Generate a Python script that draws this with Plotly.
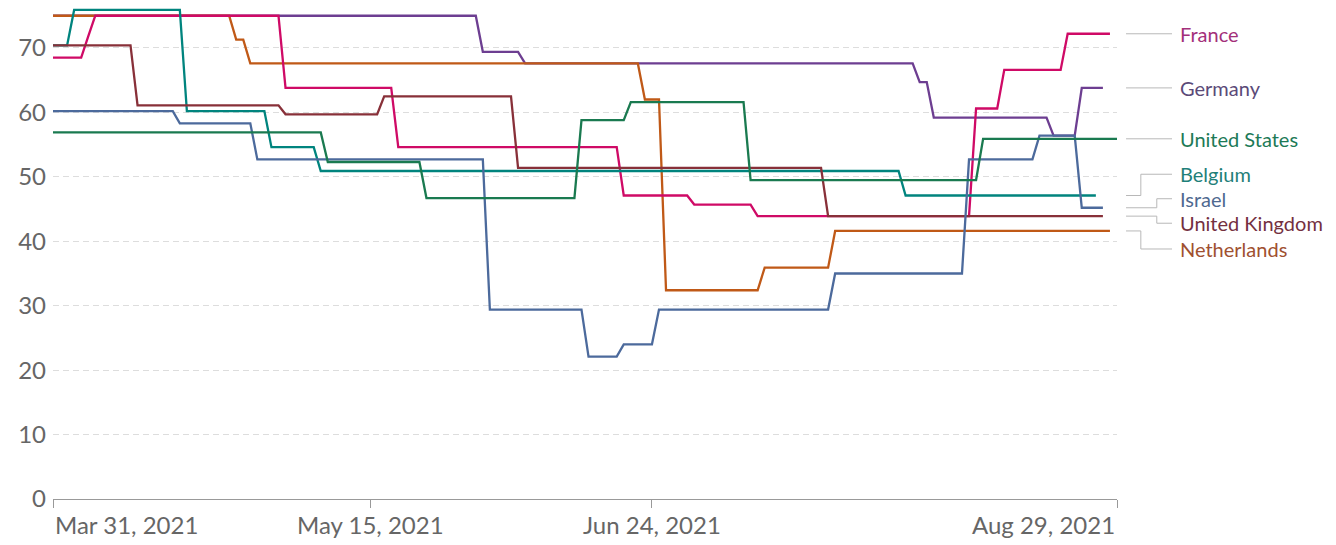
import pandas as pd
import plotly.graph_objects as go

# Stringency index, change points only (value holds until the next date).
START = "2021-03-31"

france_dates = ["2021-03-31", "2021-04-05", "2021-04-06", "2021-05-03", "2021-05-19",
                "2021-06-20", "2021-06-30", "2021-07-09", "2021-08-09", "2021-08-13",
                "2021-08-22"]
france_values = [68.5, 71.8, 75.0, 63.8, 54.6, 47.1, 45.7, 43.9, 60.6, 66.6, 72.2]
france_end = "2021-08-28"

germany_dates = ["2021-03-31", "2021-05-31", "2021-06-06", "2021-08-01", "2021-08-03",
                 "2021-08-20", "2021-08-24"]
germany_values = [75.0, 69.4, 67.6, 64.7, 59.2, 56.4, 63.8]
germany_end = "2021-08-27"

us_dates = ["2021-03-31", "2021-05-09", "2021-05-23", "2021-06-14", "2021-06-21",
            "2021-07-08", "2021-08-10"]
us_values = [56.9, 52.3, 46.7, 58.8, 61.6, 49.5, 55.9]
us_end = "2021-08-29"

belgium_dates = ["2021-03-31", "2021-04-03", "2021-04-19", "2021-05-01", "2021-05-08",
                 "2021-07-30"]
belgium_values = [70.4, 75.9, 60.2, 54.6, 50.9, 47.1]
belgium_end = "2021-08-26"

israel_dates = ["2021-03-31", "2021-04-18", "2021-04-29", "2021-06-01", "2021-06-15",
                "2021-06-20", "2021-06-25", "2021-07-20", "2021-08-08", "2021-08-18",
                "2021-08-24"]
israel_values = [60.2, 58.3, 52.7, 29.4, 22.1, 24.0, 29.4, 35.0, 52.7, 56.4, 45.2]
israel_end = "2021-08-27"

uk_dates = ["2021-03-31", "2021-04-12", "2021-05-03", "2021-05-17", "2021-06-05",
            "2021-07-19"]
uk_values = [70.4, 61.1, 59.7, 62.5, 51.4, 43.9]
uk_end = "2021-08-27"

netherlands_dates = ["2021-03-31", "2021-04-26", "2021-04-28", "2021-06-23", "2021-06-26",
                     "2021-07-10", "2021-07-20"]
netherlands_values = [75.0, 71.3, 67.6, 62.0, 32.4, 35.9, 41.6]
netherlands_end = "2021-08-28"

tick_dates = ["2021-03-31", "2021-05-15", "2021-06-24", "2021-08-29"]
tick_text = ["Mar 31, 2021", "May 15, 2021", "Jun 24, 2021", "Aug 29, 2021"]

FONT = "Lato"


def daily(dates, values, end):
    s = pd.Series(values, index=pd.to_datetime(dates))
    return s.reindex(pd.date_range(START, end, freq="D")).ffill()


# name -> (series, line colour, label colour, label y, elbow x in paper units)
# draw order matters: later traces sit on top where lines overlap
countries = {
    "Germany": (daily(germany_dates, germany_values, germany_end),
                "#6d3e91", "#5b4a78", 63.8, None),
    "Netherlands": (daily(netherlands_dates, netherlands_values, netherlands_end),
                    "#c05917", "#a05030", 38.8, 1.0224),
    "France": (daily(france_dates, france_values, france_end),
               "#cf0a66", "#a3307a", 72.2, None),
    "Belgium": (daily(belgium_dates, belgium_values, belgium_end),
                "#00847e", "#1f8079", 50.4, 1.0224),
    "United Kingdom": (daily(uk_dates, uk_values, uk_end),
                       "#883039", "#74303f", 42.8, 1.0374),
    "Israel": (daily(israel_dates, israel_values, israel_end),
               "#4c6a9c", "#4f6990", 46.6, 1.0374),
    "United States": (daily(us_dates, us_values, us_end),
                      "#1a7a50", "#1d7a57", 55.9, None),
}

fig = go.Figure()
X0, X1, XT = 1.0085, 1.0517, 1.0575
for name, (serie, color, lab_color, lab_y, elbow) in countries.items():
    fig.add_scatter(x=serie.index, y=serie.values, mode="lines", name=name,
                    line=dict(color=color, width=2.3), showlegend=False)
    y_end = float(serie.iloc[-1])
    if elbow is None:
        path = f"M {X0},{y_end} L {X1},{y_end}"
    else:
        path = f"M {X0},{y_end} L {elbow},{y_end} L {elbow},{lab_y} L {X1},{lab_y}"
    fig.add_shape(type="path", path=path, xref="paper", yref="y",
                  line=dict(color="#b8b8b8", width=1))
    fig.add_annotation(x=XT, y=lab_y, xref="paper", yref="y", text=name,
                       showarrow=False, xanchor="left", yanchor="middle",
                       font=dict(family=FONT, size=20, color=lab_color))

# x tick labels: first left-aligned, last right-aligned (as in the source)
anchors = ["left", "center", "center", "right"]
for d, t, a in zip(tick_dates, tick_text, anchors):
    fig.add_annotation(x=d, y=0, xref="x", yref="paper", text=t, showarrow=False,
                       xanchor=a, yanchor="top", yshift=-9,
                       font=dict(family=FONT, size=24, color="#666666"))

# the page draws the figure 8px in from the top-left corner, so keep it
# 8px smaller than the window to avoid scrollbars
fig.update_layout(
    width=1328, height=537,
    margin=dict(l=45, r=219, t=0, b=46),
    paper_bgcolor="white", plot_bgcolor="white",
    font=dict(family=FONT, color="#666666"),
    showlegend=False,
)
fig.update_xaxes(
    type="date", range=[START, "2021-08-29"],
    tickvals=tick_dates, showticklabels=False,
    ticks="outside", ticklen=8, tickcolor="#999999",
    showline=True, linecolor="#999999", linewidth=1,
    showgrid=False, zeroline=False,
)
fig.update_yaxes(
    range=[0, 76.2], tickvals=[0, 10, 20, 30, 40, 50, 60, 70],
    tickfont=dict(family=FONT, size=24, color="#666666"),
    showgrid=True, gridcolor="#dddddd", griddash="6px,4px", gridwidth=1,
    zeroline=False, showline=False, ticks="", ticklabelstandoff=6,
)

fig.write_html("out.html")
